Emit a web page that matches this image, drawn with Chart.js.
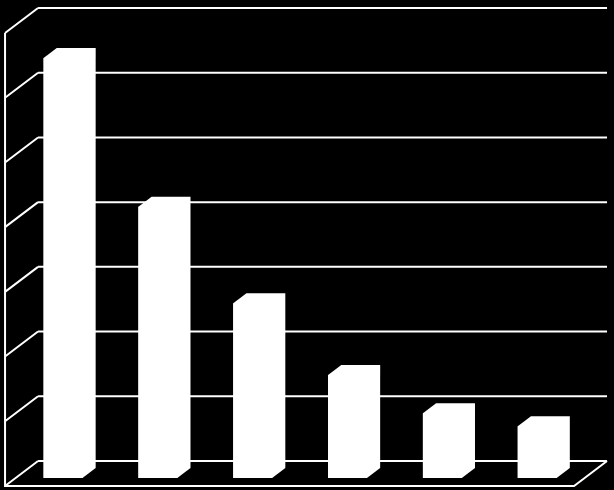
<!DOCTYPE html>
<html>
<head>
<meta charset="utf-8">
<script src="https://cdn.jsdelivr.net/npm/chart.js@4.4.1/dist/chart.umd.min.js"></script>
<style>
  html, body { margin: 0; padding: 0; background: #000; }
  #wrap { width: 614px; height: 490px; position: relative; }
</style>
</head>
<body>
<div id="wrap"><canvas id="c"></canvas></div>
<script>
// ---- data ----
const categories = ['1', '2', '3', '4', '5', '6'];
const values = [64.9, 41.9, 27.0, 15.9, 10.0, 8.0];
const tickValues = [0, 10, 20, 30, 40, 50, 60, 70];

// ---- 3D look (oblique projection) ----
const DEPTH_X = 33, DEPTH_Y = 25;      // full floor depth
const BAR_FRONT = 0.32, BAR_BACK = 0.72; // bar depth within floor

const threeD = {
  id: 'threeD',
  beforeDraw(chart) {
    const ctx = chart.ctx;
    ctx.save();
    ctx.fillStyle = '#000';
    ctx.fillRect(0, 0, chart.width, chart.height);
    ctx.restore();
  },
  beforeDatasetsDraw(chart) {
    const ctx = chart.ctx, a = chart.chartArea, ys = chart.scales.y;
    const fx = -BAR_FRONT * DEPTH_X, fy = BAR_FRONT * DEPTH_Y;             // front plane
    const bx = (1 - BAR_FRONT) * DEPTH_X, by = -(1 - BAR_FRONT) * DEPTH_Y; // back wall
    ctx.save();
    ctx.strokeStyle = '#fff';
    ctx.lineWidth = 2;
    ctx.lineCap = 'butt';
    const top = ys.getPixelForValue(tickValues[tickValues.length - 1]);
    const bottom = ys.getPixelForValue(tickValues[0]);
    ctx.beginPath();
    tickValues.forEach(v => {
      const y = ys.getPixelForValue(v);
      ctx.moveTo(a.left + bx, y + by);
      ctx.lineTo(a.right + bx, y + by);
      ctx.moveTo(a.left + fx, y + fy);
      ctx.lineTo(a.left + bx, y + by);
    });
    ctx.moveTo(a.left + fx, top + fy);
    ctx.lineTo(a.left + fx, bottom + fy);
    ctx.lineTo(a.right + fx, bottom + fy);
    ctx.lineTo(a.right + bx, bottom + by);
    ctx.stroke();
    ctx.restore();
  },
  afterDatasetsDraw(chart) {
    const ctx = chart.ctx;
    const dx = (BAR_BACK - BAR_FRONT) * DEPTH_X, dy = -(BAR_BACK - BAR_FRONT) * DEPTH_Y;
    ctx.save();
    ctx.fillStyle = '#fff';
    chart.getDatasetMeta(0).data.forEach(bar => {
      const p = bar.getProps(['x', 'y', 'base', 'width'], true);
      const x1 = p.x - p.width / 2, x2 = p.x + p.width / 2;
      // whole box silhouette in one path (front + top + side)
      ctx.beginPath();
      ctx.moveTo(x1, p.base);
      ctx.lineTo(x1, p.y);
      ctx.lineTo(x1 + dx, p.y + dy);
      ctx.lineTo(x2 + dx, p.y + dy);
      ctx.lineTo(x2 + dx, p.base + dy);
      ctx.lineTo(x2, p.base);
      ctx.closePath();
      ctx.fill();
    });
    ctx.restore();
  }
};

new Chart(document.getElementById('c'), {
  type: 'bar',
  data: {
    labels: categories,
    datasets: [{
      data: values,
      backgroundColor: '#fff',
      borderWidth: 0,
      categoryPercentage: 1,
      barPercentage: 0.41
    }]
  },
  options: {
    responsive: true,
    maintainAspectRatio: false,
    animation: false,
    layout: { padding: { left: 15.6, right: 29.4, top: 25, bottom: 12 } },
    plugins: { legend: { display: false }, tooltip: { enabled: false } },
    scales: {
      x: { display: false },
      y: { display: false, min: tickValues[0], max: tickValues[tickValues.length - 1],
           ticks: { stepSize: 10 } }
    }
  },
  plugins: [threeD]
});
</script>
</body>
</html>
